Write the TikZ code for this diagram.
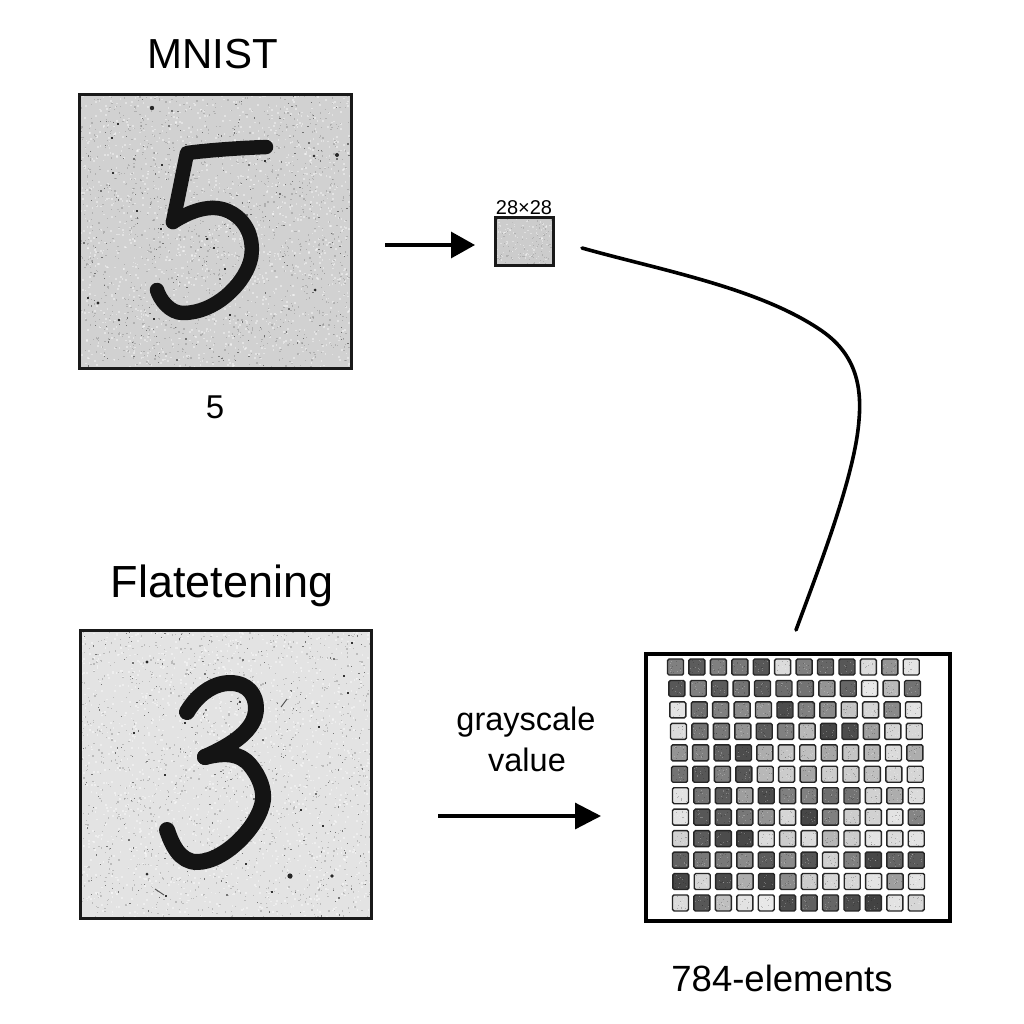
\documentclass[tikz,border=0pt]{standalone}
\usepackage{fontspec}
\setmainfont{Liberation Sans}
\usetikzlibrary{arrows.meta}
\newcommand{\txtsize}[1]{\fontsize{#1}{#1}\selectfont}
\newcommand{\speckles}[7]{% x y w h n side colour
  \begin{scope}[#7]
  \foreach \i in {1,...,#5}{%
    \pgfmathsetmacro\spx{#1+#3*rnd}%
    \pgfmathsetmacro\spy{#2+#4*rnd}%
    \fill (\spx,\spy) rectangle +(#6,#6);
  }
  \end{scope}}
\newcommand{\panelnoise}[4]{% x y w h
  \speckles{#1}{#2}{#3}{#4}{1500}{1.7}{white,opacity=.4}
  \speckles{#1}{#2}{#3}{#4}{1300}{1.3}{black!55,opacity=.35}
  \speckles{#1}{#2}{#3}{#4}{220}{1.2}{black!65,opacity=.8}
  \speckles{#1}{#2}{#3}{#4}{14}{2}{black!80}}
\tikzset{
  panelbox/.style={draw=black!90,line width=3pt,minimum width=#1,minimum height=#1,inner sep=0pt,outer sep=0pt},
  digitstroke/.style={line width=#1,draw=black!92,line cap=round,line join=round},
  cellbox/.style={draw=black!85,line width=1.4pt,rounded corners=1.5pt,minimum size=16pt,inner sep=0pt},
  gridbox/.style={draw=black,line width=3.4pt,minimum width=304pt,minimum height=267pt,inner sep=0pt},
  flowarrow/.style={line width=3.2pt,draw=black,-{Triangle[length=#1,width=26pt]}},
  swoop/.style={line width=3.6pt,draw=black,line cap=round},
  lab/.style={inner sep=0pt,text=black}
}
\begin{document}
\begin{tikzpicture}[x=1pt,y=-1pt]
\useasboundingbox (0,0) rectangle (1024,1024);
\fill[white] (0,0) rectangle (1024,1024);
\pgfmathsetseed{4217}
% --- top panel
\fill[black!18] (79,95) rectangle (351,368);
\begin{scope}
\clip (79,95) rectangle (351,368);
\panelnoise{79}{95}{272}{273}
\fill[black!85] (152,108) circle (2.2) (337,155) circle (2) (315,290) circle (1.5) (98,303) circle (1.6) (119,320) circle (1.4) (314,156) circle (1.4);
\end{scope}
\draw[digitstroke=14.5pt] (266,147) .. controls (240,148) and (210,150) .. (187,153) -- (173,222);
\draw[digitstroke=14.5pt] (173,222) .. controls (195,208) and (215,204) .. (230,212) .. controls (250,222) and (255,245) .. (250,262) .. controls (243,285) and (215,313) .. (183,313) .. controls (170,313) and (160,300) .. (157,290);
\node[panelbox=273pt,minimum width=272pt] (mnistimg) at (215,231.5) {};
% --- bottom panel
\fill[black!11] (80,630) rectangle (371,918);
\begin{scope}
\clip (80,630) rectangle (371,918);
\panelnoise{80}{630}{291}{288}
\fill[black!85] (290,876) circle (2.6) (332,876) circle (1.8) (147,662) circle (1.6) (147,874) circle (1.5);
\draw[black!70,line width=.9pt] (287,699) -- (281,707) (155,889) -- (164,895);
\end{scope}
\draw[digitstroke=16pt] (187,712) .. controls (197,695) and (213,683) .. (230,683) .. controls (248,683) and (256,695) .. (256,708) .. controls (256,730) and (232,745) .. (205,757);
\draw[digitstroke=16pt] (205,757) .. controls (225,752) and (240,753) .. (250,765) .. controls (260,777) and (264,790) .. (263,800) .. controls (260,825) and (225,862) .. (197,862) .. controls (180,862) and (172,845) .. (167,830);
\node[panelbox=288pt,minimum width=291pt] (flatimg) at (225.5,774) {};
% --- small box
\fill[black!20] (496,218) rectangle (553,265);
\begin{scope}
\clip (496,218) rectangle (553,265);
\speckles{496}{218}{57}{47}{110}{1.3}{white,opacity=.4}
\speckles{496}{218}{57}{47}{90}{1.1}{black!50,opacity=.35}
\end{scope}
\node[draw=black!90,line width=2.2pt,minimum width=58pt,minimum height=48pt,inner sep=0pt,outer sep=0pt] (smallbox) at (524.5,241.5) {};
% --- vector grid
\node[gridbox] (gridframe) at (798,787.5) {};
\def\rowshift{{0,1.3,2.3,3,3.7,4,5,5,5,5,5.3,5}}
\def\cellvals{{
{50,64,50,53,66,14,50,60,66,14,42,11},
{66,50,64,55,64,57,55,42,60,9,28,55},
{11,57,50,46,42,70,50,46,23,16,46,11},
{14,55,53,42,64,50,28,72,70,38,16,16},
{42,50,62,70,32,23,25,35,23,29,14,32},
{55,66,50,66,28,20,35,20,20,25,16,16},
{11,55,64,38,70,50,50,57,55,18,32,14},
{11,66,64,53,42,16,72,50,20,18,11,48},
{18,64,70,72,14,20,14,29,20,11,14,11},
{62,53,53,46,64,46,66,18,50,72,60,64},
{72,16,70,32,74,46,20,16,16,11,38,11},
{14,66,25,11,9,70,62,60,70,74,11,16}}}
\foreach \r in {0,...,11}{
  \foreach \c in {0,...,11}{
    \pgfmathsetmacro\cx{675.5+21.43*\c+\rowshift[\r]}
    \pgfmathsetmacro\cy{667+21.45*\r}
    \pgfmathsetmacro\cv{int(\cellvals[\r][\c])}
    \node[cellbox,fill=black!\cv] (cell-\r-\c) at (\cx,\cy) {};
    \pgfmathsetmacro\sx{\cx-7}
    \pgfmathsetmacro\sy{\cy-7}
    \speckles{\sx}{\sy}{13}{13}{7}{1}{black!90,opacity=.25}
    \speckles{\sx}{\sy}{13}{13}{7}{1}{white,opacity=.25}
  }
}
% --- connectors
\coordinate (a1s) at (385,245);
\coordinate (a1e) at (475,245);
\coordinate (a2s) at (438,816);
\coordinate (a2e) at (601,816);
\coordinate (cs) at (582,248);
\coordinate (ce) at (796,630);
\draw[flowarrow=24pt] (a1s) -- (a1e);
\draw[flowarrow=26pt] (a2s) -- (a2e);
\draw[swoop] (cs) .. controls (660,270) and (760,288) .. (822,331)
  .. controls (855,354) and (862,385) .. (859,420)
  .. controls (855,475) and (820,565) .. (ce);
% --- labels
\node[lab,font=\txtsize{42}] (t1) at (212.5,54) {MNIST};
\node[lab,font=\txtsize{33}] (t2) at (215,407) {5};
\node[lab,font=\txtsize{20}] (t3) at (524,208) {28×28};
\node[lab,font=\txtsize{45}] (t4) at (222,586) {Flatetening};
\node[lab,font=\txtsize{32.5}] (t5) at (526,722) {grayscale};
\node[lab,font=\txtsize{32.5}] (t6) at (527,760) {value};
\node[lab,font=\txtsize{36.5}] (t7) at (782,978) {784-elements};
\end{tikzpicture}
\end{document}
